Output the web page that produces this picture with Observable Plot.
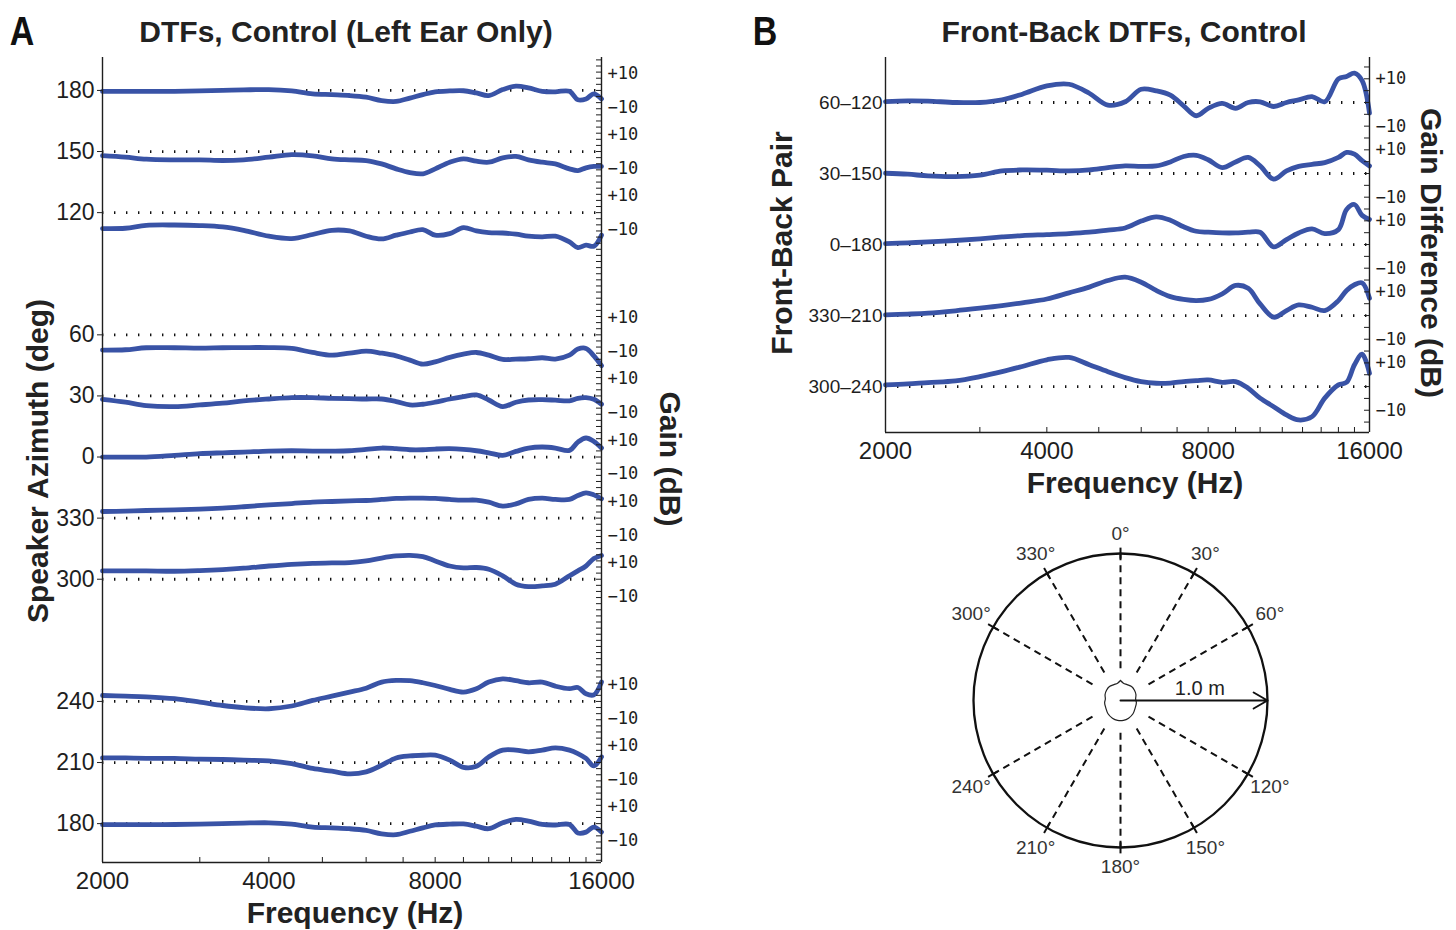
<!DOCTYPE html>
<html>
<head>
<meta charset="utf-8">
<script src="https://cdn.jsdelivr.net/npm/d3@7"></script>
<script src="https://cdn.jsdelivr.net/npm/@observablehq/plot@0.6"></script>
<style>
  html, body { margin: 0; padding: 0; background: #fff; }
  #root { position: relative; width: 1456px; height: 930px; overflow: hidden;
          font-family: "Liberation Sans", Arial, Helvetica, sans-serif; color: #222; }
  .abs { position: absolute; white-space: nowrap; }
  .lbl { font-weight: bold; font-size: 30px; transform: translate(-50%, -50%); }
  .rotL { transform: translate(-50%, -50%) rotate(-90deg); }
  .rotR { transform: translate(-50%, -50%) rotate(90deg); }
  .panel { font-family: "Liberation Sans Narrow", "Liberation Sans", Arial, sans-serif;
           font-weight: bold; font-size: 40px; transform: translate(-50%, -50%) scaleX(0.85); color: #111; }
</style>
</head>
<body>
<div id="root"></div>
<script>
// ---------------- data ----------------
const freqs = [2000, 2200, 2400, 2700, 3000, 3300, 3600, 4000, 4400, 4800, 5200, 5600,
  6000, 6400, 6800, 7200, 7600, 8000, 8500, 9000, 9500, 10000, 10600, 11200, 11800,
  12500, 13200, 14000, 14500, 15000, 15500, 16000];

// Panel A: left-ear DTF gain (dB) per speaker azimuth
const gain180 = [-0.6,-0.6,-0.6,-0.5,-0.3,0,0.3,0.5,-0.3,-2.0,-2.5,-3.0,-4.0,-6.0,-6.5,-4.5,-2.5,-0.8,-0.3,-0.2,-1.5,-3.0,0.5,2.5,1.5,-0.5,-0.8,-0.5,-5.5,-5.0,-2.0,-5.0];
const gain150 = [-2.4,-3.3,-4.5,-4.9,-4.9,-5.3,-4.9,-3.3,-1.8,-2.5,-4.3,-4.9,-5.3,-7.3,-10.2,-12.4,-13.1,-10.2,-6.3,-4.3,-5.7,-6.3,-3.7,-2.9,-4.9,-6.3,-7.3,-10.2,-11.2,-9.6,-8.8,-8.8];
const gain120 = [-9.4,-9.2,-7.5,-7.3,-7.6,-8.4,-10.4,-13.9,-15.3,-12.9,-10.4,-10.8,-13.9,-15.5,-13.3,-11.4,-10,-13.3,-12.4,-8.8,-10.8,-11.8,-12,-12.7,-13.9,-14.3,-13.9,-17.3,-20.6,-19.2,-19.8,-13.3];
const gain60  = [-9.0,-8.8,-7.6,-7.6,-7.8,-7.6,-7.5,-7.5,-8,-10.4,-12,-10.8,-9.6,-10.8,-12.4,-14.9,-17.3,-15.9,-13.3,-11.4,-10.4,-12,-14.5,-14.3,-14.1,-13.5,-14.3,-12,-8.4,-8,-12.4,-18.2];
const gain30  = [-2,-3.7,-5.7,-6.3,-5.3,-4.3,-2.9,-1.8,-1,-1,-1.4,-1.6,-1.8,-1.8,-3.3,-5.3,-4.9,-3.7,-1.8,-0.4,0.6,-2.4,-6.3,-3.7,-2.4,-2.2,-2.5,-2.9,-1.4,-1,-2,-4.9];
const gain0   = [0,0,0,1,2,2.5,2.9,3.5,3.7,3.5,3.5,3.7,4.5,5.3,4.9,4.3,4.3,4.7,4.9,4.5,3.7,2.5,1,3.3,5.3,5.9,5.3,3.9,8.8,11.2,9.2,5.3];
const gain330 = [3.9,4.1,4.5,4.9,5.3,5.9,6.7,7.8,8.6,9.4,9.8,10.2,10.4,11,11.6,11.8,11.8,11.6,11,10.6,10.6,9.4,7.1,8.4,11,11.8,11,11,13.3,14.9,13.7,11.4];
const gain300 = [4.9,4.9,4.9,4.7,5.1,5.7,6.5,7.8,8.8,9.4,9.6,9.8,10.8,12.5,13.7,14.1,13.3,10.8,7.8,6.7,6.9,5.9,2,-2.9,-4.3,-3.9,-2.9,2,4.9,7.8,12.2,14];
const gain240 = [3.5,3.1,2.7,1.6,-0.4,-2.4,-3.7,-4.3,-2.7,0.6,3.1,5.5,7.8,11.4,12.4,12.2,11,9.4,7.1,5.5,7.5,11.4,13.3,12.2,11,11.4,9,7.5,8.2,4.5,3.9,11.4];
const gain210 = [2.7,2.7,2.5,2.4,2,1.8,1.4,1,-0.6,-3.5,-5.1,-6.7,-5.5,-1.6,2.7,3.9,4.3,4.3,1.4,-2.8,-2.2,3.3,7.3,7.3,6.3,7.3,8.6,7.3,5.3,2.4,-2,3.3];

// rows of panel A, top to bottom (90 and 270 have no trace)
const azimuthLabels = ["180","150","120","90","60","30","0","330","300","270","240","210","180"];
const seriesA = [gain180, gain150, gain120, null, gain60, gain30, gain0, gain330, gain300, null, gain240, gain210, gain180];

// Panel B: front-back gain differences (dB)
const gain60_120  = [0.4,0.7,0.6,0,0,1.1,3.5,7,7.7,3.9,-1.1,0.3,5.6,4.9,3.1,-1.4,-5.6,-2.5,-0.4,-2.5,0,0.3,-1.7,0,1.1,2.5,0.3,10,11,12.4,9.2,-4.5];
const gain30_150  = [0.1,-0.3,-1,-1.3,-0.7,1.1,1.5,1.4,1.1,1.5,2.5,3.2,3,3.2,4.9,7.2,7.7,5.8,2.5,4.9,6.8,3.2,-2.4,1.1,3,3.9,4.6,6.8,8.9,8.2,5.4,3.2];
const gain0_180   = [0.4,0.7,1.1,1.7,2.4,3.2,3.8,4.2,4.6,5.2,6.1,7,9.9,11.7,10.3,7.5,5.6,5.2,4.9,4.9,5.2,5.2,-1,2.1,4.9,6.6,4.6,6.3,14.8,16.9,12.3,10.6];
const gain330_210 = [0.3,0.6,1,2,3.1,4.2,5.4,7,9.6,12,14.8,16.2,14.1,10.6,8,6.8,6.3,6.8,9.2,12.7,11.5,4.9,-0.7,2.1,4.5,3.5,2.1,6.3,10.6,13,13.8,7.3];
const gain300_240 = [0.7,1.1,1.7,2.4,4.2,6.3,8.5,11.3,12.3,9.2,6.3,3.8,2.1,1.4,1.5,2.1,2.5,2.8,1.8,2.1,-0.7,-4.9,-8.5,-12,-14.1,-12.7,-4.9,0.7,1.8,9.2,13.7,5.6];
const pairLabels = ["60–120","30–150","0–180","330–210","300–240"];
const seriesB = [gain60_120, gain30_150, gain0_180, gain330_210, gain300_240];

// axis ticks
const freqTickLabels = [2000, 4000, 8000, 16000];
const freqMinorTicks = [3000, 5000, 6000, 7000, 9000, 10000, 11000, 12000, 13000, 14000, 15000];
const gainTickValues = [10, -10];

// polar diagram
const polarAngles = [0, 30, 60, 120, 150, 180, 210, 240, 300, 330];
const headOutline = [
  [0,0.136],[0.02,0.118],[0.045,0.108],[0.075,0.095],[0.095,0.07],[0.105,0.04],[0.103,0.01],
  [0.108,-0.015],[0.1,-0.05],[0.085,-0.09],[0.055,-0.12],[0.02,-0.135],[-0.02,-0.135],
  [-0.055,-0.12],[-0.085,-0.09],[-0.1,-0.05],[-0.108,-0.015],[-0.103,0.01],[-0.105,0.04],
  [-0.095,0.07],[-0.075,0.095],[-0.045,0.108],[-0.02,0.118],[0,0.136]
];

// ---------------- drawing ----------------
const BLUE = "#3953a6";
const INK = "#1e1e1e";
const root = document.getElementById("root");
const fontMain = "Liberation Sans, Arial, Helvetica, sans-serif";
const fontMono = "DejaVu Sans Mono, Liberation Mono, monospace";
const signLabel = g => (g > 0 ? "+" : "−") + Math.abs(g);

function place(el, left, top) {
  el.style.position = "absolute"; el.style.left = left + "px"; el.style.top = top + "px";
  root.appendChild(el);
}
function text(str, x, y, cls, extra) {
  const d = document.createElement("div");
  d.className = "abs " + cls; d.textContent = str;
  d.style.left = x + "px"; d.style.top = y + "px";
  if (extra) Object.assign(d.style, extra);
  root.appendChild(d);
}

function stackedPanel(opt) {
  const {labels, series, slot, yTop, yBottom, plotH, width, height, mTop, mLeft, mRight,
         minorStep, leftFont, leftTick} = opt;
  const rows = labels.map((label, i) => ({label, i, gains: series[i]})).filter(r => r.gains);
  const data = rows.flatMap(r => freqs.map((f, k) => ({f, v: r.gains[k] - slot * r.i, row: r.i})));
  const bases = rows.map(r => -slot * r.i);
  const baseLabel = new Map(rows.map(r => [-slot * r.i, r.label]));
  const right = rows.flatMap(r => gainTickValues.map(g => ({v: g - slot * r.i, t: signLabel(g)})));
  const rightLabel = new Map(right.map(d => [d.v, d.t]));
  const y0 = yBottom, y1 = yTop;
  const pxPerDb = plotH / (y1 - y0);
  const plotW = width - mLeft - mRight;
  const pxPerOct = plotW / 3;
  const minor = d3.range(Math.ceil(y0 / minorStep) * minorStep, y1, minorStep);
  return Plot.plot({
    width, height, marginTop: mTop, marginBottom: height - mTop - plotH,
    marginLeft: mLeft, marginRight: mRight,
    x: {type: "log", domain: [2000, 16000], axis: null},
    y: {domain: [y0, y1], axis: null},
    style: {fontFamily: fontMain, color: INK, background: "transparent", overflow: "visible"},
    marks: [
      Plot.ruleY(bases, {y: d => d, stroke: "#111", strokeWidth: 2.8, strokeDasharray: "1.4,10.6"}),
      Plot.line(data, {x: "f", y: "v", z: "row", stroke: BLUE, strokeWidth: 4.8,
        curve: "catmull-rom", strokeLinejoin: "round", strokeLinecap: "round"}),
      Plot.ruleX([2000, 16000], {x: d => d, stroke: INK, strokeWidth: 1.4}),
      Plot.ruleY([y0], {y: d => d, stroke: INK, strokeWidth: 1.4}),
      Plot.ruleX([...freqTickLabels, ...freqMinorTicks], {x: d => d, y1: y0, y2: y0 + 5 / pxPerDb, stroke: INK, strokeWidth: 1}),
      Plot.ruleY(minor, {y: d => d, x1: 16000 * 2 ** (-5 / pxPerOct), x2: 16000, stroke: INK, strokeWidth: 1}),
      Plot.axisX({ticks: freqTickLabels, tickSize: 0, tickPadding: 9, tickFormat: d => String(d),
        fontSize: 24, label: null}),
      Plot.axisY({anchor: "left", ticks: bases, tickSize: leftTick, tickPadding: 3,
        tickFormat: d => baseLabel.get(d), fontSize: leftFont, label: null}),
      Plot.axisY({anchor: "right", ticks: right.map(d => d.v), tickSize: 0, tickPadding: 6,
        tickFormat: d => rightLabel.get(d), fontSize: 17, fontFamily: fontMono, label: null})
    ]
  });
}

// Panel A
const SA = 36;
const plotA = stackedPanel({
  labels: azimuthLabels, series: seriesA, slot: SA,
  yTop: 19.4, yBottom: -SA * 12 - 22.9, plotH: 805,
  width: 700, height: 930, mTop: 57, mLeft: 102, mRight: 99,
  minorStep: 3.6, leftFont: 23, leftTick: 5
});
place(plotA, 0, 0);

// Panel B
const SB = 30;
const plotB = stackedPanel({
  labels: pairLabels, series: seriesB, slot: SB,
  yTop: 19, yBottom: -SB * 4 - 19.4, plotH: 375,
  width: 716, height: 500, mTop: 57, mLeft: 145, mRight: 87,
  minorStep: 5, leftFont: 19, leftTick: 0
});
place(plotB, 740, 0);

// Polar diagram
const RAD = Math.PI / 180;
const R = 200 / 147;
const px = (a, r) => r * Math.sin(a * RAD);
const py = (a, r) => r * Math.cos(a * RAD);
const labelR = a => 1.13 + 0.05 * Math.abs(Math.sin(a * RAD));
const plotP = Plot.plot({
  width: 400, height: 400, margin: 0,
  x: {domain: [-R, R], axis: null}, y: {domain: [-R, R], axis: null},
  style: {fontFamily: fontMain, color: INK, background: "transparent", overflow: "visible"},
  marks: [
    Plot.dot([0], {x: () => 0, y: () => 0, r: 147, stroke: "#111", strokeWidth: 2.3, fill: "none"}),
    Plot.link(polarAngles, {x1: a => px(a, 0.22), y1: a => py(a, 0.22), x2: a => px(a, 1), y2: a => py(a, 1),
      stroke: "#111", strokeWidth: 2, strokeDasharray: "7,5"}),
    Plot.link(polarAngles, {x1: a => px(a, 0.965), y1: a => py(a, 0.965), x2: a => px(a, 1.04), y2: a => py(a, 1.04),
      stroke: "#111", strokeWidth: 2}),
    Plot.text(polarAngles, {x: a => px(a, labelR(a)), y: a => py(a, labelR(a)), text: a => a + "°",
      fontSize: 19, fill: "#333"}),
    Plot.line(headOutline, {x: d => d[0], y: d => d[1], curve: "catmull-rom", stroke: "#222", strokeWidth: 1.2}),
    Plot.arrow([0], {x1: () => 0, y1: () => 0, x2: () => 1, y2: () => 0, stroke: "#111",
      strokeWidth: 2, headLength: 12}),
    Plot.text(["1.0 m"], {x: () => 0.54, y: () => 0.08, text: d => d, fontSize: 20, fill: "#222"})
  ]
});
place(plotP, 920, 500);

// Titles and axis titles
text("A", 22, 31, "panel");
text("DTFs, Control (Left Ear Only)", 346, 32, "lbl");
text("Frequency (Hz)", 355, 913, "lbl");
text("Speaker Azimuth (deg)", 38, 461, "lbl rotL");
text("Gain (dB)", 670, 459, "lbl rotR");
text("B", 765, 31, "panel");
text("Front-Back DTFs, Control", 1124, 32, "lbl");
text("Frequency (Hz)", 1135, 483, "lbl");
text("Front-Back Pair", 782, 243, "lbl rotL");
text("Gain Difference (dB)", 1431, 253, "lbl rotR");
</script>
</body>
</html>
